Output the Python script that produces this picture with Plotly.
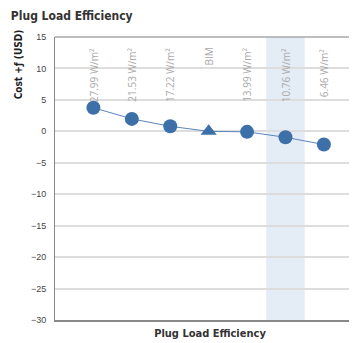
import plotly.graph_objects as go

categories = ["27.99 W/m²", "21.53 W/m²", "17.22 W/m²", "BIM", "13.99 W/m²", "10.76 W/m²", "6.46 W/m²"]
values = [3.75, 1.98, 0.8, 0.0, -0.08, -0.95, -2.1]
symbols = ["circle", "circle", "circle", "triangle-up", "circle", "circle", "circle"]
highlight_index = 5
y_ticks = [15, 10, 5, 0, -5, -10, -15, -20, -25, -30]

xs = list(range(len(categories)))
color = "#3d6fa8"
narrow = "DejaVu Sans Condensed, Liberation Sans Narrow, Arial Narrow"

fig = go.Figure()
fig.add_vrect(x0=highlight_index - 0.5, x1=highlight_index + 0.5,
              fillcolor="#e4ecf6", line_width=0, layer="below")
fig.add_shape(type="line", xref="paper", yref="paper", x0=0, x1=1, y0=1, y1=1,
              line=dict(color="#a8a8a8", width=1.5))
fig.add_trace(go.Scatter(
    x=xs, y=values, mode="lines+markers",
    line=dict(color="#5b86bb", width=1),
    marker=dict(symbol=symbols, size=14, color=color),
    hoverinfo="skip", showlegend=False,
))
for i, c in enumerate(categories):
    fig.add_annotation(x=i, y=13.6, text=c, textangle=-90, showarrow=False,
                       xanchor="center", yanchor="top",
                       font=dict(family="Open Sans, DejaVu Sans", size=10, color="#aaaaaa"))

fig.add_annotation(xref="paper", yref="paper", x=-0.118, y=0.905, text="<b>Cost +ƒ (USD)</b>",
                   textangle=-90, showarrow=False, xanchor="center", yanchor="middle",
                   font=dict(family=narrow, size=10, color="#222222"))

fig.update_layout(
    width=357, height=343,
    margin=dict(l=47, r=0, t=29, b=31, autoexpand=False),
    paper_bgcolor="white", plot_bgcolor="white",
    title=dict(text="<b>Plug Load Efficiency</b>", x=0.008, xanchor="left", y=0.99, yanchor="top",
               font=dict(family=narrow, size=12, color="#333333")),
    xaxis=dict(range=[-1, 7.07], showticklabels=False, showgrid=False, zeroline=False,
               showline=True, linecolor="#888888", linewidth=2, ticks="", automargin=False,
               title=dict(text="<b>Plug Load Efficiency</b>", standoff=8,
                          font=dict(family=narrow, size=11, color="#333333"))),
    yaxis=dict(range=[-30, 15], tickvals=y_ticks, showgrid=True, gridcolor="#dddddd", gridwidth=1.5,
               zeroline=False, showline=True, linecolor="#888888", linewidth=1, ticks="",
               automargin=False, ticklabelstandoff=6,
               tickfont=dict(family="Liberation Sans, Arial", size=9, color="#444444")),
)

fig.write_html("out.html")
